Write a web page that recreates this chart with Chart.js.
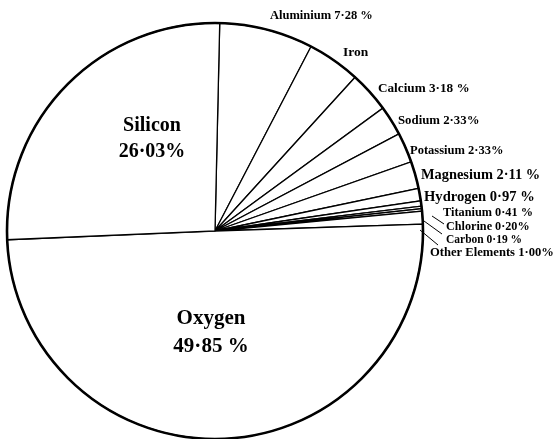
<!DOCTYPE html>
<html>
<head>
<meta charset="utf-8">
<script src="https://cdn.jsdelivr.net/npm/chart.js@4.4.0/dist/chart.umd.min.js"></script>
<style>
html,body{margin:0;padding:0;background:#fff;overflow:hidden;}
#wrap{width:555px;height:439px;overflow:hidden;position:relative;}
canvas{display:block;}
</style>
</head>
<body>
<div id="wrap"><canvas id="c" width="555" height="445"></canvas></div>
<script>
// Data (clockwise from 12 o'clock)
const categories = ["Aluminium","Iron","Calcium","Sodium","Potassium","Magnesium","Hydrogen","Titanium","Chlorine","Carbon","Other Elements","Oxygen","Silicon"];
const values = [7.28, 4.12, 3.18, 2.33, 2.33, 2.11, 0.97, 0.41, 0.20, 0.19, 1.00, 49.85, 26.03];
const labelTexts = ["Aluminium 7·28 %","Iron","Calcium 3·18 %","Sodium 2·33%","Potassium 2·33%","Magnesium 2·11 %","Hydrogen 0·97 %","Titanium 0·41 %","Chlorine 0·20%","Carbon 0·19 %","Other Elements 1·00%","Oxygen\n49·85 %","Silicon\n26·03%"];

// Label layout (positions/styles only)
const outerLayout = [
  {x:270,y:16,size:12.5},
  {x:343,y:53,size:13.5},
  {x:378,y:89,size:13.2},
  {x:398,y:121,size:12.8},
  {x:410,y:151,size:12.5},
  {x:421,y:175,size:14.4},
  {x:424,y:197,size:14.6},
  {x:443,y:213,size:12.3},
  {x:446,y:227,size:12.2},
  {x:446,y:240,size:11.5},
  {x:430,y:253,size:12.6},
  {x:211,y:319,size:21,inner:true},
  {x:152,y:126,size:20,inner:true}
];
const leaders = {8:[432,216,444,224],9:[424,221,442,234],10:[420,230,438,245]};

const labelPlugin = {
  id:'labels',
  afterDatasetsDraw(chart){
    const ctx = chart.ctx;
    const arcs = chart.getDatasetMeta(0).data;
    const a0 = arcs[0];
    ctx.save();
    ctx.beginPath();
    ctx.arc(a0.x, a0.y, a0.outerRadius, 0, Math.PI*2);
    ctx.lineWidth = 2.6;
    ctx.strokeStyle = '#000';
    ctx.stroke();
    ctx.restore();

    ctx.save();
    ctx.fillStyle = '#000';
    ctx.textBaseline = 'middle';
    labelTexts.forEach((t,i)=>{
      const L = outerLayout[i];
      ctx.font = 'bold '+L.size+'px "Liberation Serif", "DejaVu Serif", serif';
      if(L.inner){
        ctx.textAlign = 'center';
        t.split('\n').forEach((ln,k)=>{ ctx.fillText(ln, L.x, L.y + k*L.size*1.3); });
      } else {
        ctx.textAlign = 'left';
        ctx.fillText(t, L.x, L.y);
      }
    });
    ctx.lineWidth = 1;
    ctx.strokeStyle = '#000';
    Object.keys(leaders).forEach(k=>{
      const s = leaders[k];
      ctx.beginPath(); ctx.moveTo(s[0],s[1]); ctx.lineTo(s[2],s[3]); ctx.stroke();
    });
    ctx.restore();
  }
};

new Chart(document.getElementById('c'), {
  type:'pie',
  data:{
    labels:categories,
    datasets:[{
      data:values,
      backgroundColor:'#ffffff',
      borderColor:'#000000',
      borderWidth:1.3,
      radius:208,
      borderJoinStyle:'miter'
    }]
  },
  options:{
    responsive:false,
    devicePixelRatio:1,
    animation:false,
    rotation:1.3,
    layout:{padding:{left:7,right:132,top:23,bottom:6}},
    plugins:{legend:{display:false},tooltip:{enabled:false}},
    events:[]
  },
  plugins:[labelPlugin]
});
</script>
</body>
</html>
